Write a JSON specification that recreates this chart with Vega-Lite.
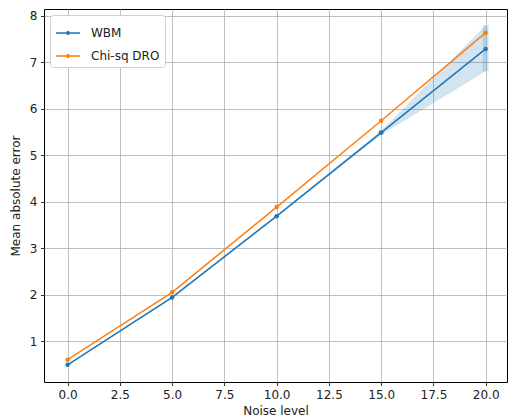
{
  "$schema": "https://vega.github.io/schema/vega-lite/v6.json",
  "width": 463,
  "height": 373,
  "autosize": "none",
  "padding": {"left": 44, "top": 9, "right": 2, "bottom": 34},
  "background": "white",
  "config": {
    "font": "DejaVu Sans",
    "view": {"stroke": "black", "strokeWidth": 1},
    "axis": {
      "domain": false,
      "grid": true,
      "gridColor": "#b0b0b0",
      "gridWidth": 0.8,
      "tickColor": "black",
      "tickSize": 3.5,
      "tickWidth": 0.8,
      "labelPadding": 3.5,
      "labelFontSize": 12,
      "labelColor": "#222",
      "titleFontSize": 12,
      "titleFontWeight": "normal",
      "titleColor": "#222"
    }
  },
  "data": {
    "values": [
      {"noise": 0, "method": "WBM", "mae": 0.49, "lo": 0.48, "hi": 0.50},
      {"noise": 5, "method": "WBM", "mae": 1.94, "lo": 1.92, "hi": 1.96},
      {"noise": 10, "method": "WBM", "mae": 3.69, "lo": 3.67, "hi": 3.71},
      {"noise": 15, "method": "WBM", "mae": 5.49, "lo": 5.44, "hi": 5.53},
      {"noise": 20, "method": "WBM", "mae": 7.29, "lo": 6.81, "hi": 7.80},
      {"noise": 0, "method": "Chi-sq DRO", "mae": 0.60, "lo": 0.60, "hi": 0.60},
      {"noise": 5, "method": "Chi-sq DRO", "mae": 2.05, "lo": 2.05, "hi": 2.05},
      {"noise": 10, "method": "Chi-sq DRO", "mae": 3.886, "lo": 3.886, "hi": 3.886},
      {"noise": 15, "method": "Chi-sq DRO", "mae": 5.745, "lo": 5.745, "hi": 5.745},
      {"noise": 20, "method": "Chi-sq DRO", "mae": 7.64, "lo": 7.64, "hi": 7.64}
    ]
  },
  "encoding": {
    "x": {
      "field": "noise",
      "type": "quantitative",
      "title": "Noise level",
      "scale": {"domain": [-1.13, 21.02], "nice": false, "zero": false},
      "axis": {"values": [0, 2.5, 5, 7.5, 10, 12.5, 15, 17.5, 20], "format": ".1f", "titlePadding": 5}
    }
  },
  "layer": [
    {
      "transform": [{"filter": "datum.method === 'WBM'"}],
      "mark": {"type": "area", "color": "#1f77b4", "opacity": 0.2},
      "encoding": {
        "y": {"field": "lo", "type": "quantitative"},
        "y2": {"field": "hi"}
      }
    },
    {
      "transform": [{"filter": "datum.method === 'WBM'"}],
      "mark": {"type": "rule", "color": "#1f77b4", "opacity": 0.2, "strokeWidth": 6},
      "encoding": {
        "y": {"field": "lo", "type": "quantitative"},
        "y2": {"field": "hi"}
      }
    },
    {
      "mark": {"type": "line", "strokeWidth": 1.5, "point": {"filled": true, "size": 20}},
      "encoding": {
        "y": {
          "field": "mae",
          "type": "quantitative",
          "title": "Mean absolute error",
          "scale": {"domain": [0.12, 8.15], "nice": false, "zero": false},
          "axis": {"values": [1, 2, 3, 4, 5, 6, 7, 8], "titlePadding": 7}
        },
        "color": {
          "field": "method",
          "type": "nominal",
          "scale": {"domain": ["WBM", "Chi-sq DRO"], "range": ["#1f77b4", "#ff7f0e"]},
          "legend": {
            "title": null,
            "orient": "top-left",
            "offset": 6,
            "fillColor": "white",
            "strokeColor": "#d0d0d0",
            "cornerRadius": 3,
            "padding": 5,
            "labelFontSize": 12,
            "labelColor": "#222",
            "symbolType": "M-1,0H1M-0.11,0a0.11,0.11 0 1,0 0.22,0a0.11,0.11 0 1,0 -0.22,0",
            "symbolSize": 576,
            "symbolStrokeWidth": 1.5,
            "rowPadding": 4,
            "labelOffset": 10
          }
        },
        "order": {"field": "noise", "type": "quantitative"}
      }
    }
  ]
}
